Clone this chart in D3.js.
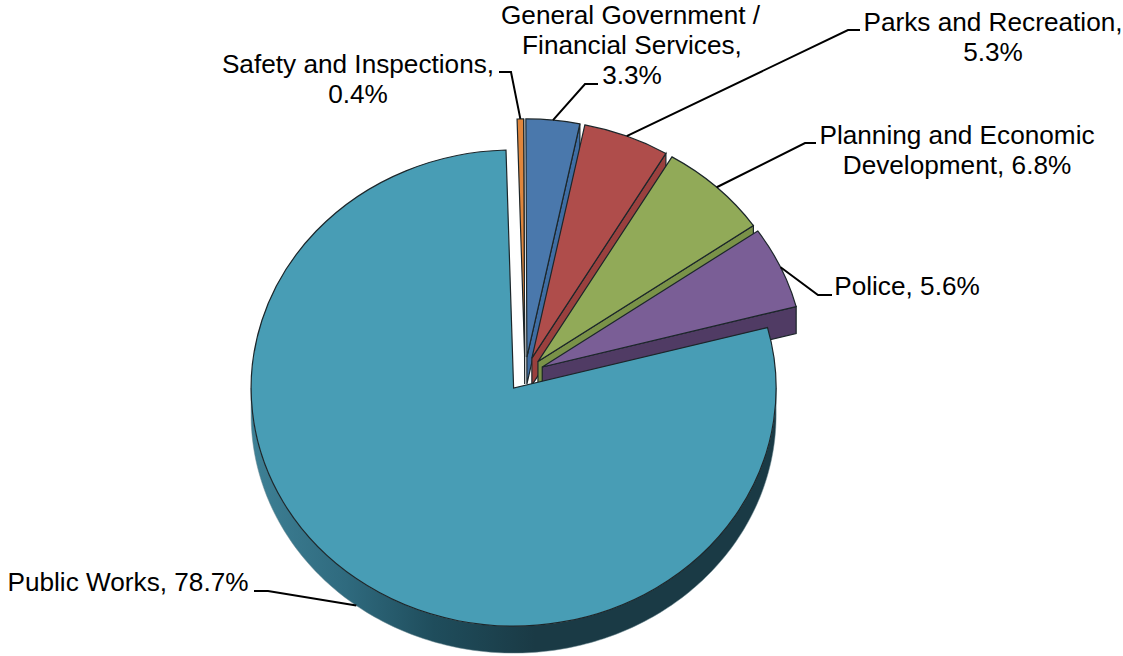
<!DOCTYPE html>
<html>
<head>
<meta charset="utf-8">
<script src="https://cdn.jsdelivr.net/npm/d3@7"></script>
<style>
    html, body { margin: 0; padding: 0; background: #fff; }
    svg { display: block; }
    text { font-family: "Liberation Sans", Arial, sans-serif; font-size: 26.2px; fill: #000; }
</style>
</head>
<body>
<div id="main"></div>
<script>
const categories = ['Public Works', 'Safety and Inspections', 'General Government / Financial Services', 'Parks and Recreation', 'Planning and Economic Development', 'Police'];
const shares = [78.7, 0.4, 3.3, 5.3, 6.8, 5.6];
const labelLines = [
    ['Public Works, 78.7%'],
    ['Safety and Inspections,', '0.4%'],
    ['General Government /', 'Financial Services,', '3.3%'],
    ['Parks and Recreation,', '5.3%'],
    ['Planning and Economic', 'Development, 6.8%'],
    ['Police, 5.6%']
];

const topColors = ['#489db5', '#e0863c', '#4a78ac', '#af4d4b', '#91aa58', '#7a5e96'];
const wallColors = ['#1a3a45', '#8a4f20', '#3f6da3', '#9a403e', '#7a9248', '#503b64'];

const w = 1123;
const h = 656;
const cx = 525;
const cy = 374.2;
const r = 262.5;
const tilt = 0.907;
const depth = 27;
const explode = 19;

// label anchor (middle of each line), first baseline, leader elbow + end
const labelLayout = [
    { x: [128], y: 591, elbow: [[268, 591], [254, 591]], anchorDepth: depth },
    { x: [358, 358], y: 73, elbow: [[511, 72], [499, 72]], anchorDepth: 0 },
    { x: [630.5, 632, 632], y: 23.5, elbow: [[585, 84], [598, 84]], anchorDepth: 0 },
    { x: [993, 993], y: 31, elbow: [[848, 30], [860, 30]], anchorDepth: 0 },
    { x: [957, 957], y: 144, elbow: [[805, 143], [816, 143]], anchorDepth: 0 },
    { x: [907], y: 295, elbow: [[818, 295], [832, 295]], anchorDepth: 0 }
];

const svg = d3.select('#main').append('svg').attr('width', w).attr('height', h);

// rim gets lighter towards the left side of the pie
const grad = svg.append('defs').append('linearGradient').attr('id', 'rim')
    .attr('gradientUnits', 'userSpaceOnUse')
    .attr('x1', cx - 280).attr('x2', cx + 10).attr('y1', 0).attr('y2', 0);
grad.append('stop').attr('offset', '0').attr('stop-color', '#3f8297');
grad.append('stop').attr('offset', '0.35').attr('stop-color', '#2f6a7e');
grad.append('stop').attr('offset', '0.65').attr('stop-color', '#1f4d5c');
grad.append('stop').attr('offset', '1').attr('stop-color', '#1a3a45');

const pie = d3.pie().sort(null)
    .startAngle(75.3 * Math.PI / 180)
    .endAngle((75.3 + 360) * Math.PI / 180);
const slices = pie(shares);
const arc = d3.arc().innerRadius(0).outerRadius(r);
const line = d3.line();

// screen position of a point on the tilted disc
const onDisc = (a, rad, c) => [c[0] + rad * Math.sin(a), c[1] - rad * Math.cos(a) * tilt];

const centre = d => {
    const mid = (d.startAngle + d.endAngle) / 2;
    return onDisc(mid, explode, [cx, cy]);
};

const edgeColor = '#1c262a';

slices.map((d, i) => ({ d, i })).sort((a, b) => {
    // public works goes on top, the others clockwise
    return (a.i === 0 ? 99 : a.i) - (b.i === 0 ? 99 : b.i);
}).forEach(({ d, i }) => {
    const c = centre(d);
    const g = svg.append('g').attr('class', 'slice').attr('data-name', categories[i]);

    if (i === 0) {
        // outer rim, only the lower half shows
        const angles = d3.range(Math.PI / 2, 3 * Math.PI / 2 + 0.001, Math.PI / 180);
        const upper = angles.map(a => onDisc(a, r, c));
        const lower = angles.map(a => onDisc(a, r, c)).map(p => [p[0], p[1] + depth]).reverse();
        g.append('path').attr('d', line(upper.concat(lower)) + 'Z')
            .attr('fill', 'url(#rim)').attr('stroke', '#6f8a92').attr('stroke-width', 0.5);
    } else {
        // radial wall along the clockwise edge
        const outer = onDisc(d.endAngle, r, c);
        const wall = [c, outer, [outer[0], outer[1] + depth], [c[0], c[1] + depth]];
        g.append('path').attr('d', line(wall) + 'Z')
            .attr('fill', wallColors[i]).attr('stroke', edgeColor).attr('stroke-width', 1.2);
    }

    g.append('path')
        .attr('d', arc(d))
        .attr('transform', `translate(${c[0]},${c[1]}) scale(1,${tilt})`)
        .attr('fill', topColors[i])
        .attr('stroke', edgeColor)
        .attr('stroke-width', 1.2)
        .attr('vector-effect', 'non-scaling-stroke');
});

// leaders and labels
slices.forEach((d, i) => {
    const lay = labelLayout[i];
    const mid = (d.startAngle + d.endAngle) / 2;
    const start = onDisc(mid, r, centre(d));
    start[1] += lay.anchorDepth;
    svg.append('path')
        .attr('d', line([start].concat(lay.elbow)))
        .attr('fill', 'none')
        .attr('stroke', '#000')
        .attr('stroke-width', 2);

    labelLines[i].forEach((t, j) => {
        svg.append('text')
            .attr('x', lay.x[j])
            .attr('y', lay.y + j * 30)
            .attr('text-anchor', 'middle')
            .text(t);
    });
});
</script>
</body>
</html>
